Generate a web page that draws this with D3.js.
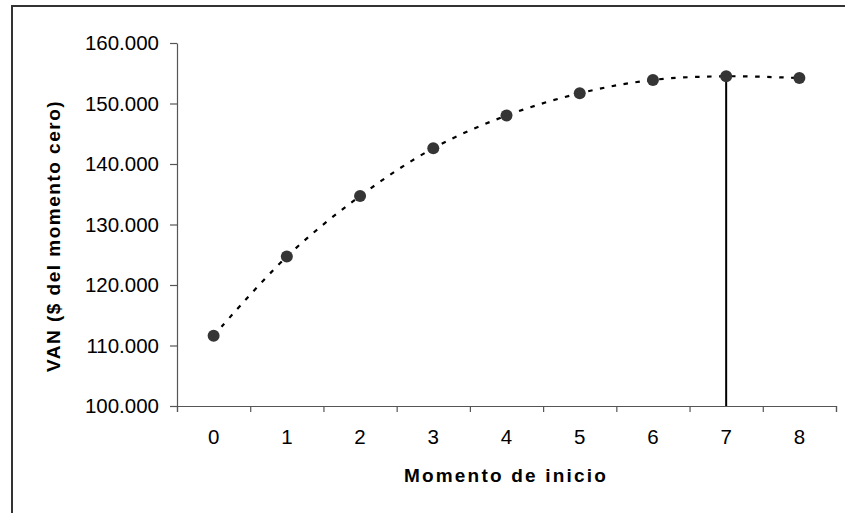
<!DOCTYPE html>
<html>
<head>
<meta charset="utf-8">
<script src="https://cdn.jsdelivr.net/npm/d3@7"></script>
<style>
  body { margin: 0; background: #fff; }
  svg { display: block; font-family: "Liberation Sans", Arial, sans-serif; }
</style>
</head>
<body>
<div id="chart"></div>
<script>
// Momento de inicio (categories) and VAN values
const momentos = [0, 1, 2, 3, 4, 5, 6, 7, 8];
const van = [111600, 124700, 134700, 142600, 148000, 151700, 153900, 154500, 154200];
const yTicks = [100000, 110000, 120000, 130000, 140000, 150000, 160000];
const optimo = 7;

const w = 845, h = 513;
const margin = {top: 43, right: 9, bottom: 107, left: 177};

const svg = d3.select("#chart").append("svg")
  .attr("width", w)
  .attr("height", h);

// outer frame (only top and left edges fall inside the picture)
svg.append("path")
  .attr("d", "M12,520V6H850")
  .attr("fill", "none")
  .attr("stroke", "#333")
  .attr("stroke-width", 2);

const es = d3.formatLocale({decimal: ",", thousands: ".", grouping: [3], currency: ["$", ""]});
const fmt = es.format(",.0f");

/** scales */
const x = d3.scaleBand()
  .domain(momentos)
  .range([margin.left, w - margin.right]);

const xEdge = d3.scaleLinear()
  .domain([0, momentos.length])
  .range([margin.left, w - margin.right]);

const y = d3.scaleLinear()
  .domain([100000, 160000])
  .range([h - margin.bottom, margin.top]);

/** axes */
const gx = svg.append("g")
  .attr("transform", "translate(0," + (h - margin.bottom) + ")");

gx.call(d3.axisBottom(xEdge)
  .tickValues(d3.range(momentos.length + 1))
  .tickFormat("")
  .tickSize(6)
  .tickSizeOuter(6));

gx.append("g").call(d3.axisBottom(x).tickSize(0).tickPadding(23))
  .call(g => g.select(".domain").remove());

gx.selectAll("text")
  .attr("font-size", 20.5)
  .attr("font-family", "Liberation Sans, Arial, sans-serif")
  .attr("fill", "#000");

const gy = svg.append("g")
  .attr("transform", "translate(" + margin.left + ",0)")
  .call(d3.axisLeft(y).tickValues(yTicks).tickFormat(fmt).tickSize(7).tickSizeOuter(0).tickPadding(11));

gy.selectAll("text")
  .attr("font-size", 20.5)
  .attr("font-family", "Liberation Sans, Arial, sans-serif")
  .attr("fill", "#000");

svg.selectAll(".domain, .tick line")
  .attr("stroke", "#555")
  .attr("stroke-width", 1.2);

/** axis titles */
svg.append("text")
  .attr("x", 506)
  .attr("y", 482)
  .attr("text-anchor", "middle")
  .attr("font-size", 19)
  .attr("font-weight", "bold")
  .attr("letter-spacing", 2.2)
  .text("Momento de inicio");

svg.append("text")
  .attr("transform", "translate(60,236) rotate(-90)")
  .attr("text-anchor", "middle")
  .attr("font-size", 19)
  .attr("font-weight", "bold")
  .attr("letter-spacing", 1.5)
  .text("VAN ($ del momento cero)");

const cx = d => x(d) + x.bandwidth() / 2;

// vertical line at the optimum
svg.append("line")
  .attr("x1", cx(optimo))
  .attr("x2", cx(optimo))
  .attr("y1", y(van[momentos.indexOf(optimo)]))
  .attr("y2", y(100000))
  .attr("stroke", "#000")
  .attr("stroke-width", 2);

/** smoothed dashed line */
const line = d3.line()
  .x((d, i) => cx(momentos[i]))
  .y(d => y(d))
  .curve(d3.curveCatmullRom.alpha(0.5));

svg.append("path")
  .datum(van)
  .attr("d", line)
  .attr("fill", "none")
  .attr("stroke", "#000")
  .attr("stroke-width", 2.2)
  .attr("stroke-dasharray", "4.5,7.5");

svg.selectAll("circle.pt")
  .data(van)
  .join("circle")
  .attr("class", "pt")
  .attr("cx", (d, i) => cx(momentos[i]))
  .attr("cy", d => y(d))
  .attr("r", 6)
  .attr("fill", "#353535");
</script>
</body>
</html>
